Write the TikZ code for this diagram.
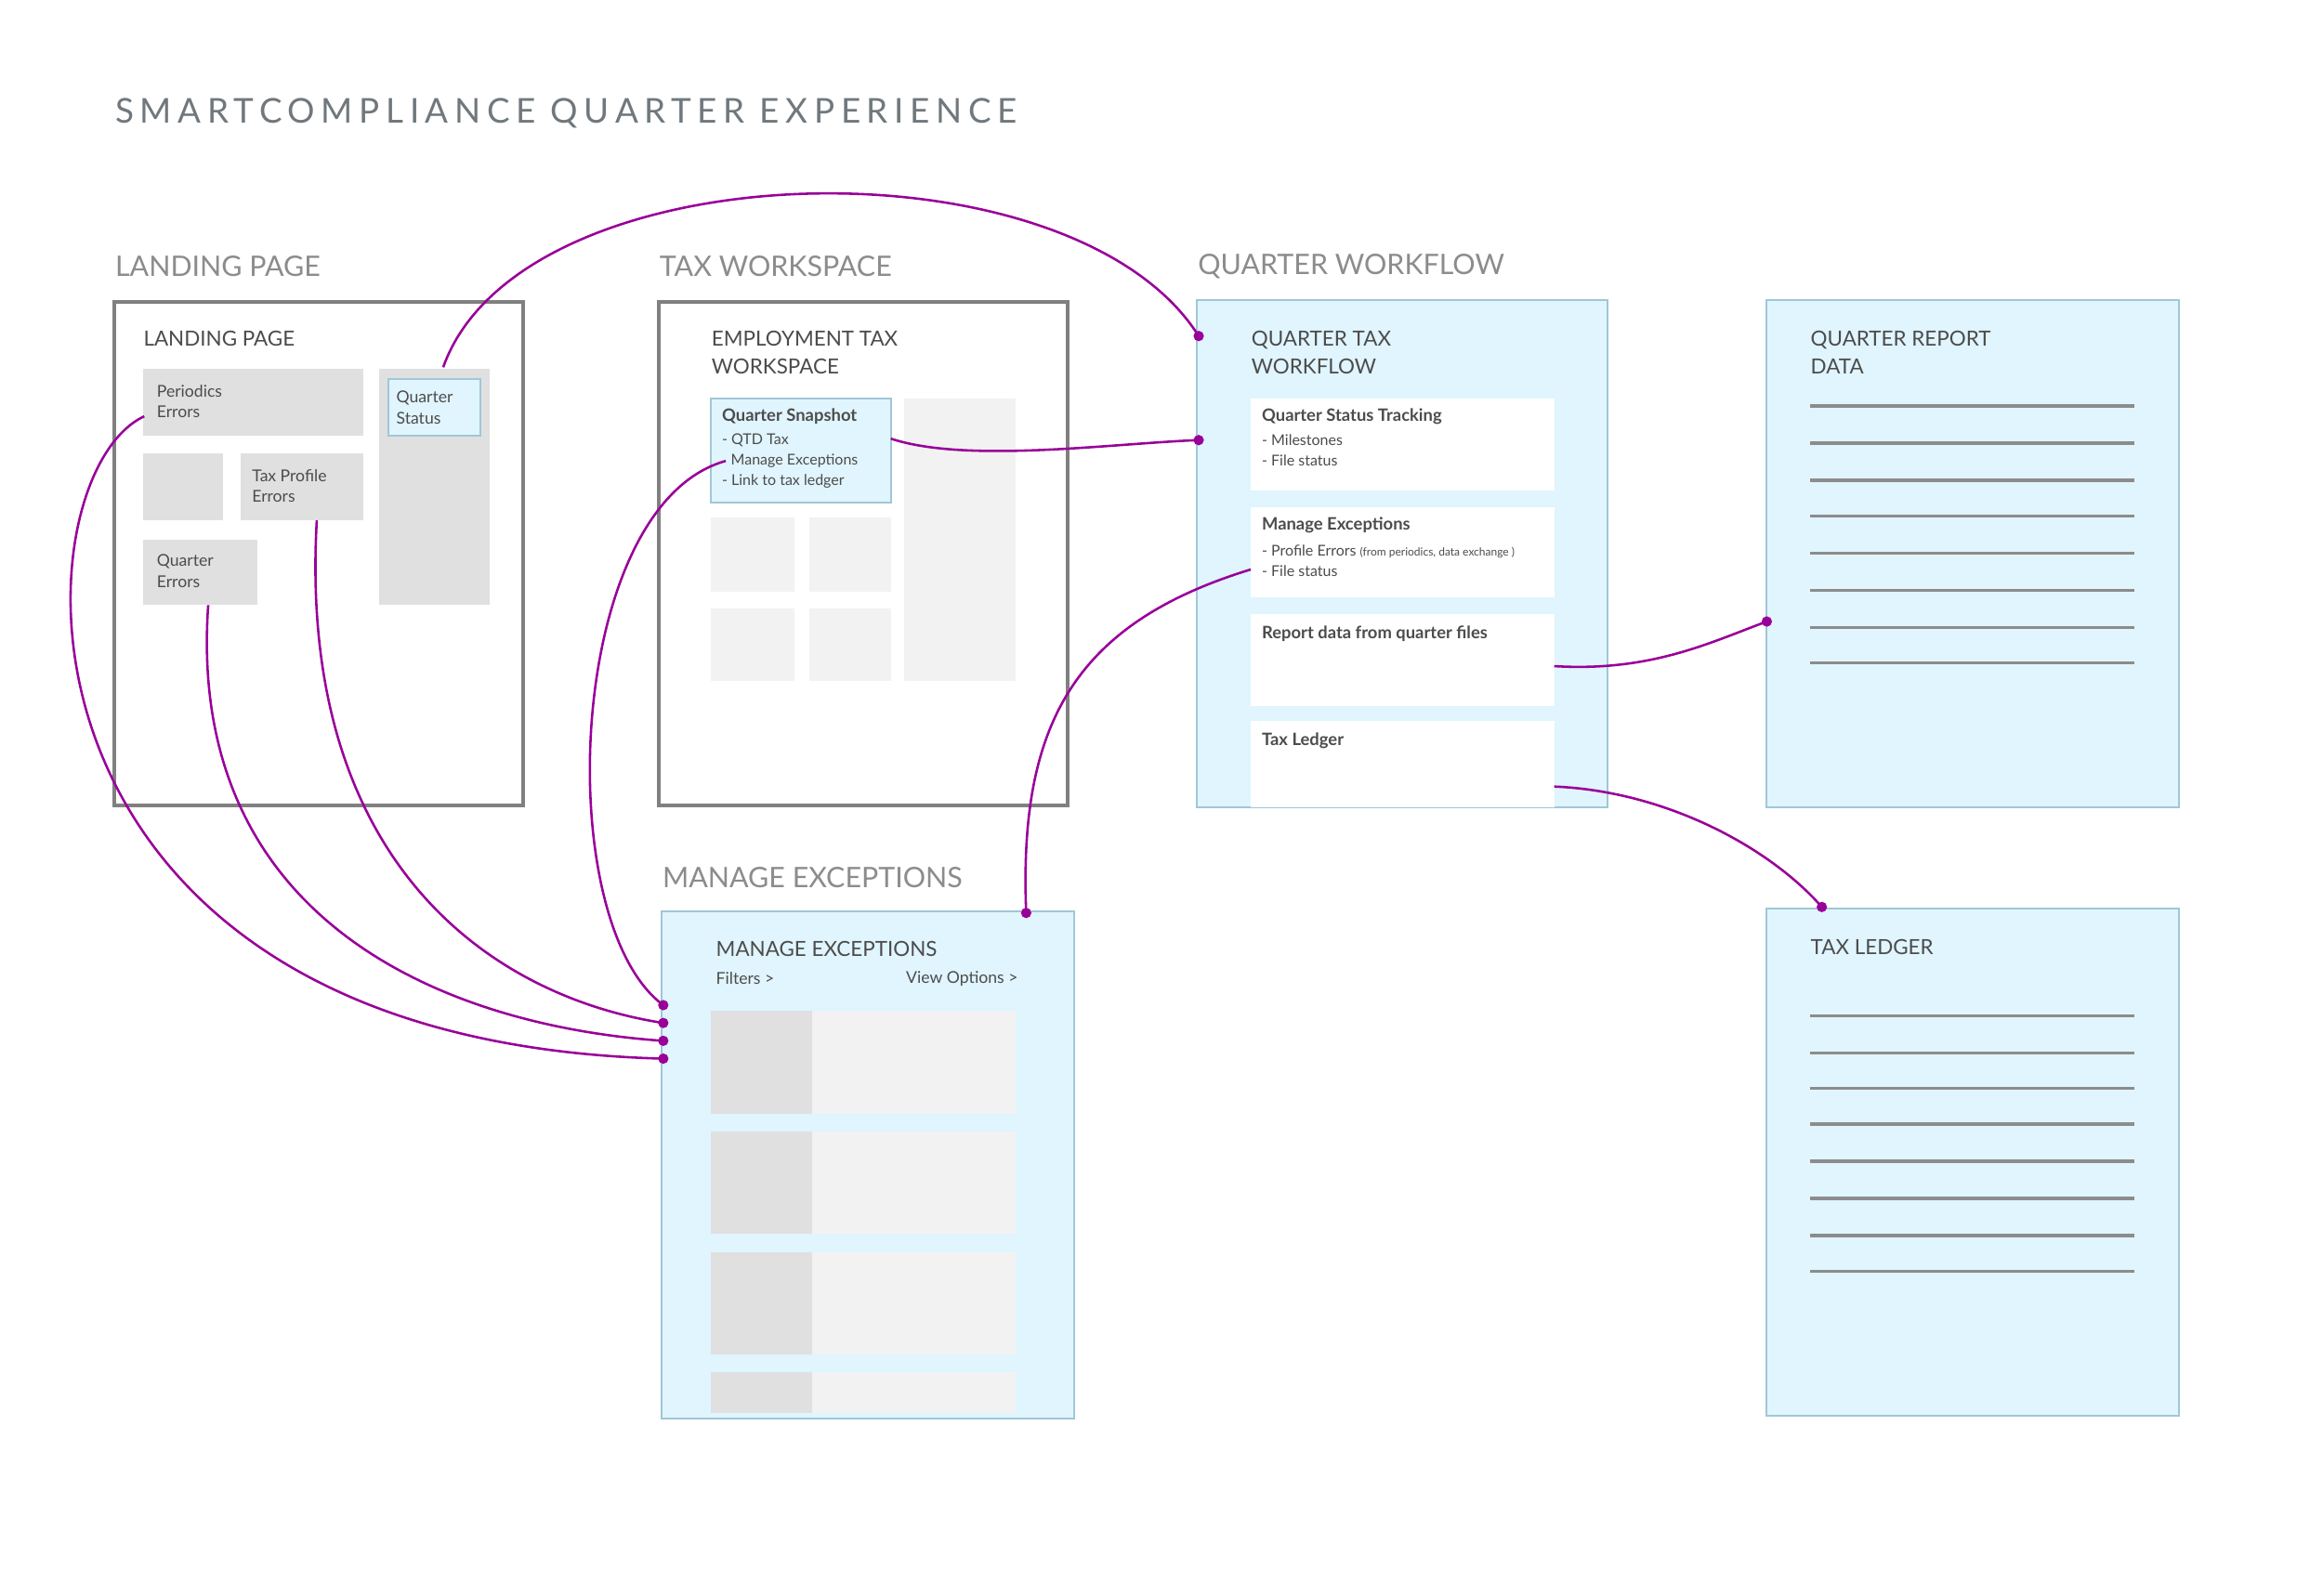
\documentclass[tikz,border=0pt]{standalone}
\usepackage{fontspec}
\setmainfont{Lato}
\begin{document}
\begin{tikzpicture}[x=1pt,y=-1pt,
  title/.style={anchor=west,text=black!70!cyan!40!gray,font=\fontsize{23}{26}\selectfont\addfontfeatures{LetterSpace=18}},
  sect/.style={anchor=west,text=black!45,font=\fontsize{19}{22}\selectfont},
  btitle/.style={anchor=west,text=black!70,font=\fontsize{14}{19}\selectfont,align=left},
  small/.style={anchor=west,text=black!70,font=\fontsize{11}{14}\selectfont,align=left},
  bsmall/.style={anchor=west,text=black!70,font=\bfseries\fontsize{11.5}{14}\selectfont},
  frame/.style={draw=black!50,line width=2.5pt,fill=white},
  bluebox/.style={draw=cyan!45!gray!60,line width=1.3pt,fill=cyan!12},
  dk/.style={fill=black!12},
  lt/.style={fill=black!5},
  card/.style={fill=white},
  ln/.style={draw=black!45,line width=2pt},
  conn/.style={draw=violet!80!magenta,line width=1.6pt},
  dot/.style={circle,fill=violet!80!magenta,inner sep=0pt,minimum size=7pt}]
\useasboundingbox (0,0) rectangle (1562,1073);
\fill[white] (0,0) rectangle (1562,1073);
\node[title] (t) at (74,76) {SMARTCOMPLIANCE QUARTER EXPERIENCE};
\node[sect] at (74,179) {LANDING PAGE};
\node[sect] at (440,179) {TAX WORKSPACE};
\node[sect] at (802,179) {QUARTER WORKFLOW};
\node[sect] at (442,590) {MANAGE EXCEPTIONS};
% landing
\draw[frame] (77,203) rectangle (352,542);
\node[btitle] at (93,228) {LANDING PAGE};
\fill[dk] (96,248) rectangle (244,293);
\node[small] at (102,270) {Periodics\\Errors};
\fill[dk] (96,305) rectangle (150,350);
\fill[dk] (162,305) rectangle (244,350);
\node[small] at (166,327) {Tax Profile\\Errors};
\fill[dk] (96,363) rectangle (173,407);
\node[small] at (102,384) {Quarter\\Errors};
\fill[dk] (255,248) rectangle (329,407);
\draw[bluebox,line width=1pt] (261,255) rectangle (323,293);
\node[small] at (263,274) {Quarter\\Status};
% tax workspace
\draw[frame] (443,203) rectangle (718,542);
\node[btitle] at (475,237) {EMPLOYMENT TAX\\WORKSPACE};
\draw[bluebox,line width=1pt] (478,268) rectangle (599,338);
\node[bsmall] at (482,280) {Quarter Snapshot};
\node[small,font=\fontsize{10}{13.5}\selectfont] at (482,310) {- QTD Tax\\\hspace*{6pt}Manage Exceptions\\- Link to tax ledger};
\fill[lt] (478,348) rectangle (534,398);
\fill[lt] (544,348) rectangle (599,398);
\fill[lt] (478,409) rectangle (534,458);
\fill[lt] (544,409) rectangle (599,458);
\fill[lt] (608,268) rectangle (683,458);
% quarter workflow
\draw[bluebox] (805,202) rectangle (1081,543);
\node[btitle] at (838,237) {QUARTER TAX\\WORKFLOW};
\fill[card] (841,268) rectangle (1045,330);
\node[bsmall] at (845,280) {Quarter Status Tracking};
\node[small,font=\fontsize{10}{13.5}\selectfont] at (845,303) {- Milestones\\- File status};
\fill[card] (841,341) rectangle (1045,402);
\node[bsmall] at (845,353) {Manage Exceptions};
\node[small,font=\fontsize{10}{13.5}\selectfont] at (845,377) {- Profile Errors {\fontsize{7.5}{9}\selectfont (from periodics, data exchange )}\\- File status};
\fill[card] (841,413) rectangle (1045,475);
\node[bsmall] at (845,426) {Report data from quarter files};
\fill[card] (841,485) rectangle (1045,543);
\node[bsmall] at (845,498) {Tax Ledger};
% report data
\draw[bluebox] (1188,202) rectangle (1465,543);
\node[btitle] at (1214,237) {QUARTER REPORT\\DATA};
\foreach \y in {273,298,323,347,372,397,422,446} \draw[ln] (1217,\y) -- (1435,\y);
% tax ledger
\draw[bluebox] (1188,611) rectangle (1465,952);
\node[btitle] at (1214,637) {TAX LEDGER};
\foreach \y in {683,708,732,756,781,806,831,855} \draw[ln] (1217,\y) -- (1435,\y);
% manage exceptions
\draw[bluebox] (445,613) rectangle (722,954);
\node[btitle] at (478,638) {MANAGE EXCEPTIONS};
\node[small] at (478,658) {Filters >};
\node[small,anchor=east] at (688,658) {View Options >};
\foreach \a/\b in {680/749,761/830,842/911,923/950} {
  \fill[dk] (478,\a) rectangle (546,\b);
  \fill[lt] (546,\a) rectangle (683,\b);}
% connectors
\coordinate (qs) at (298,247);
\coordinate (snap) at (599,295);
\coordinate (snapme) at (488,310);
\coordinate (qwme) at (841,383);
\coordinate (rd) at (1045,448);
\coordinate (tl) at (1045,529);
\coordinate (pe) at (97,280);
\coordinate (qe) at (140,407);
\coordinate (tp) at (213,350);
\node[dot] (d1) at (806,226) {};
\node[dot] (d2) at (806,296) {};
\node[dot] (d3) at (690,614) {};
\node[dot] (d4) at (1188,418) {};
\node[dot] (d5) at (1225,610) {};
\node[dot] (m1) at (446,676) {};
\node[dot] (m2) at (446,688) {};
\node[dot] (m3) at (446,700) {};
\node[dot] (m4) at (446,712) {};
\draw[conn] (qs) .. controls (350,100) and (720,90) .. (d1.center);
\draw[conn] (snap) .. controls (650,312) and (750,298) .. (d2.center);
\draw[conn] (qwme) .. controls (720,420) and (685,490) .. (d3.center);
\draw[conn] (rd) .. controls (1110,452) and (1150,432) .. (d4.center);
\draw[conn] (tl) .. controls (1120,532) and (1190,570) .. (d5.center);
\draw[conn] (pe) .. controls (10,320) and (-10,700) .. (m4.center);
\draw[conn] (qe) .. controls (125,620) and (300,690) .. (m3.center);
\draw[conn] (tp) .. controls (200,580) and (330,670) .. (m2.center);
\draw[conn] (snapme) .. controls (380,340) and (370,620) .. (m1.center);
\end{tikzpicture}
\end{document}
